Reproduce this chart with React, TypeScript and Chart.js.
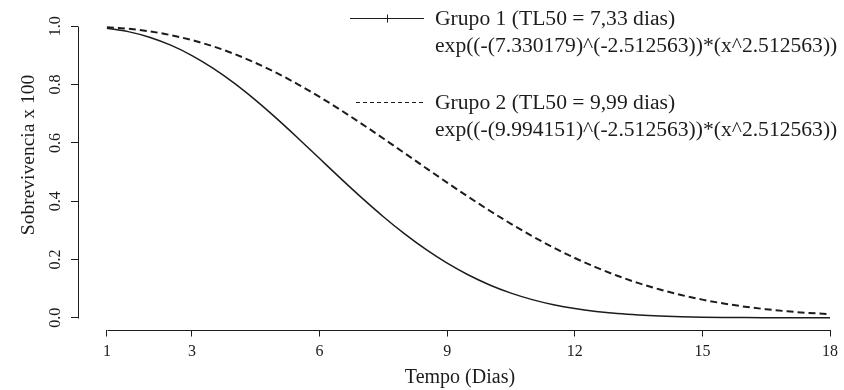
import React, { useEffect, useRef } from "react";
import { Chart, registerables } from "chart.js";

Chart.register(...registerables);

// ---- data ----
const days = [
  1, 1.5, 2, 2.5, 3, 3.5, 4, 4.5, 5, 5.5, 6, 6.5, 7, 7.5, 8, 8.5, 9, 9.5,
  10, 10.5, 11, 11.5, 12, 12.5, 13, 13.5, 14, 14.5, 15, 15.5, 16, 16.5, 17, 17.5, 18,
];
const grupo1 = [
  0.9933, 0.9816, 0.9625, 0.9352, 0.8995, 0.8555, 0.8039, 0.7457, 0.6822, 0.6151,
  0.5463, 0.4774, 0.4104, 0.3467, 0.2877, 0.2344, 0.1873, 0.1468, 0.1128, 0.0848,
  0.0625, 0.045, 0.0317, 0.0219, 0.0147, 0.0097, 0.0062, 0.0039, 0.0024, 0.0014,
  0.0008, 0.0005, 0.0003, 0.0001, 0.0001,
];
const grupo2 = [
  0.9969, 0.9915, 0.9826, 0.9697, 0.9525, 0.9309, 0.9047, 0.874, 0.839, 0.8001,
  0.7577, 0.7123, 0.6645, 0.615, 0.5646, 0.5139, 0.4637, 0.4146, 0.3673, 0.3224,
  0.2801, 0.241, 0.2053, 0.173, 0.1443, 0.119, 0.0971, 0.0783, 0.0624, 0.0492,
  0.0383, 0.0295, 0.0224, 0.0168, 0.0125,
];
const xTicks = [1, 3, 6, 9, 12, 15, 18];
const yTicks = [0, 0.2, 0.4, 0.6, 0.8, 1.0];
const legendTitles = ["Grupo 1 (TL50 = 7,33 dias)", "Grupo 2 (TL50 = 9,99 dias)"];
const legendFormulas = [
  "exp((-(7.330179)^(-2.512563))*(x^2.512563))",
  "exp((-(9.994151)^(-2.512563))*(x^2.512563))",
];
const xTitle = "Tempo (Dias)";
const yTitle = "Sobrevivencia x 100";

const FONT = "'Liberation Serif', 'Times New Roman', serif";
const INK = "#1c1c1c";

const rAxesPlugin = {
  id: "rAxes",
  afterDraw(chart: any) {
    const ctx = chart.ctx as CanvasRenderingContext2D;
    const xs = chart.scales.x;
    const ys = chart.scales.y;
    const area = chart.chartArea;
    ctx.save();
    ctx.strokeStyle = INK;
    ctx.lineWidth = 1;
    // x axis line (first to last tick)
    const yb = Math.round(area.bottom) + 0.5;
    ctx.beginPath();
    ctx.moveTo(Math.round(xs.getPixelForValue(xTicks[0])) + 0.5, yb);
    ctx.lineTo(Math.round(xs.getPixelForValue(xTicks[xTicks.length - 1])) + 0.5, yb);
    ctx.stroke();
    // y axis line (first to last tick)
    const xl = Math.round(area.left) + 0.5;
    ctx.beginPath();
    ctx.moveTo(xl, Math.round(ys.getPixelForValue(yTicks[0])) + 0.5);
    ctx.lineTo(xl, Math.round(ys.getPixelForValue(yTicks[yTicks.length - 1])) + 0.5);
    ctx.stroke();

    // y title
    ctx.fillStyle = INK;
    ctx.font = `19.5px ${FONT}`;
    ctx.textAlign = "center";
    ctx.textBaseline = "middle";
    ctx.save();
    ctx.translate(28.5, 155);
    ctx.rotate(-Math.PI / 2);
    ctx.fillText(yTitle, 0, 0);
    ctx.restore();

    // legend
    ctx.font = `21.6px ${FONT}`;
    ctx.textAlign = "left";
    ctx.textBaseline = "alphabetic";
    const textX = 435;
    const rows = [
      { lineY: 18.5, base1: 25, base2: 52, dash: [] as number[] },
      { lineY: 102.5, base1: 109, base2: 136, dash: [4, 3] },
    ];
    rows.forEach((r, i) => {
      ctx.beginPath();
      ctx.setLineDash(r.dash);
      ctx.lineWidth = 1;
      ctx.moveTo(i === 0 ? 350 : 356, r.lineY);
      ctx.lineTo(424, r.lineY);
      ctx.stroke();
      ctx.setLineDash([]);
      if (i === 0) {
        ctx.beginPath();
        ctx.moveTo(387.5, r.lineY - 4);
        ctx.lineTo(387.5, r.lineY + 4);
        ctx.stroke();
      }
      ctx.fillText(legendTitles[i], textX, r.base1);
      ctx.fillText(legendFormulas[i], textX, r.base2);
    });
    ctx.restore();
  },
};

export default function App() {
  const ref = useRef<HTMLCanvasElement | null>(null);
  useEffect(() => {
    if (!ref.current) return;
    const chart = new Chart(ref.current, {
      type: "line",
      data: {
        datasets: [
          {
            label: legendTitles[0],
            data: days.map((d, i) => ({ x: d, y: grupo1[i] })),
            borderColor: INK,
            borderWidth: 1.5,
            pointRadius: 0,
            cubicInterpolationMode: "monotone",
            fill: false,
          },
          {
            label: legendTitles[1],
            data: days.map((d, i) => ({ x: d, y: grupo2[i] })),
            borderColor: INK,
            borderWidth: 2,
            borderDash: [7, 4],
            pointRadius: 0,
            cubicInterpolationMode: "monotone",
            fill: false,
          },
        ],
      },
      options: {
        animation: false,
        responsive: false,
        devicePixelRatio: 1,
        layout: { padding: { top: 14.3, right: 0, left: 0, bottom: 0 } },
        plugins: { legend: { display: false }, tooltip: { enabled: false } },
        scales: {
          x: {
            type: "linear",
            min: 0.32,
            max: 18.281,
            afterBuildTicks: (s: any) => {
              s.ticks = xTicks.map((v) => ({ value: v }));
            },
            afterFit: (s: any) => {
              s.height = 60.5;
            },
            ticks: {
              autoSkip: false,
              maxRotation: 0,
              minRotation: 0,
              padding: 6,
              color: INK,
              font: { family: FONT, size: 16 },
            },
            grid: {
              display: true,
              drawOnChartArea: false,
              drawTicks: true,
              tickLength: 7,
              color: INK,
              lineWidth: 1,
            },
            border: { display: false },
            title: {
              display: true,
              text: xTitle,
              color: INK,
              font: { family: FONT, size: 20 },
              padding: { top: 0, bottom: 0 },
            },
          },
          y: {
            type: "linear",
            min: -0.04,
            max: 1.04,
            afterBuildTicks: (s: any) => {
              s.ticks = yTicks.map((v) => ({ value: v }));
            },
            afterFit: (s: any) => {
              s.width = 78;
            },
            ticks: {
              autoSkip: false,
              minRotation: 90,
              maxRotation: 90,
              crossAlign: "center",
              padding: 5,
              color: INK,
              font: { family: FONT, size: 16 },
              callback: (v: any) => Number(v).toFixed(1),
            },
            grid: {
              display: true,
              drawOnChartArea: false,
              drawTicks: true,
              tickLength: 7,
              color: INK,
              lineWidth: 1,
            },
            border: { display: false },
          },
        },
      },
      plugins: [rAxesPlugin],
    } as any);
    return () => chart.destroy();
  }, []);
  return (
    <div style={{ position: "fixed", left: 0, top: 0, width: 844, height: 390, background: "#fff" }}>
      <canvas ref={ref} width={844} height={390} style={{ display: "block" }} />
    </div>
  );
}
